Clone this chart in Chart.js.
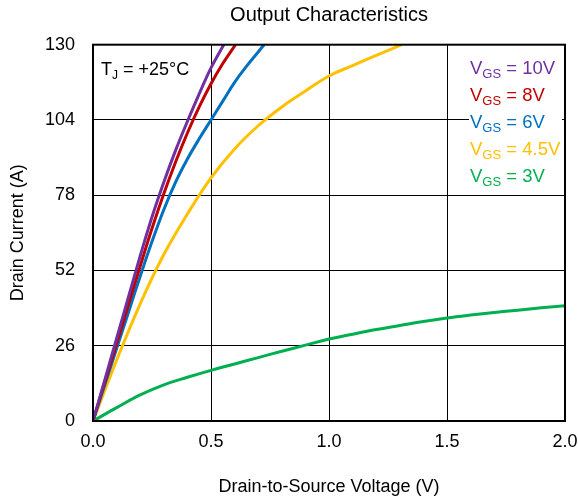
<!DOCTYPE html>
<html>
<head>
<meta charset="utf-8">
<script src="https://cdn.jsdelivr.net/npm/chart.js@4.4.0/dist/chart.umd.min.js"></script>
<style>
  html, body { margin: 0; padding: 0; background: #fff; }
</style>
</head>
<body>
<canvas id="chart" width="578" height="500"></canvas>
<script>
// Drain-to-source voltage (V) and drain current (A) for each gate drive
const vds10 = [0, 0.05, 0.1, 0.15, 0.2, 0.25, 0.3, 0.35, 0.4, 0.45, 0.5, 0.554];
const id10  = [0, 14.2, 28.5, 42.8, 57, 70.5, 82.5, 93.5, 103.5, 113, 122, 130];

const vds8 = [0, 0.05, 0.1, 0.15, 0.2, 0.25, 0.3, 0.35, 0.4, 0.45, 0.5, 0.55, 0.604];
const id8  = [0, 13.4, 26.7, 40.1, 53.5, 66.5, 78.5, 89.5, 99.5, 108.5, 116.5, 123.5, 130];

const vds6 = [0, 0.05, 0.1, 0.15, 0.2, 0.25, 0.3, 0.35, 0.4, 0.45, 0.5, 0.55, 0.6, 0.65, 0.7, 0.725];
const id6  = [0, 12.5, 25, 37.5, 50, 62, 73, 82.5, 90.5, 97.5, 104, 110.5, 117, 122.5, 127.5, 130];

const vds45 = [0, 0.1, 0.2, 0.3, 0.4, 0.5, 0.6, 0.7, 0.8, 0.9, 1.0, 1.1, 1.2, 1.308];
const id45  = [0, 21, 40.5, 57.5, 71.5, 84, 94, 102, 108.5, 114, 119.2, 122.8, 126.3, 130];

const vds3 = [0, 0.1, 0.2, 0.3, 0.4, 0.5, 0.6, 0.7, 0.8, 0.9, 1.0, 1.1, 1.2, 1.3, 1.4, 1.5, 1.6, 1.7, 1.8, 1.9, 2.0];
const id3  = [0, 4.6, 9, 12.5, 15.1, 17.5, 19.7, 21.9, 24.1, 26.2, 28.3, 30.0, 31.6, 33.0, 34.4, 35.6, 36.6, 37.5, 38.3, 39.1, 39.8];

const gateLabels = ['10V', '8V', '6V', '4.5V', '3V'];
const gateColors = ['#7030A0', '#C00000', '#0070C0', '#FFC000', '#00B050'];
const curves = [[vds10, id10], [vds8, id8], [vds6, id6], [vds45, id45], [vds3, id3]];

const yTicks = [0, 26, 52, 78, 104, 130];
const xTicks = [0, 0.5, 1.0, 1.5, 2.0];

const FONT = '"Liberation Sans", Arial, sans-serif';

const datasets = curves.map(([xs, ys], i) => ({
  label: 'VGS = ' + gateLabels[i],
  data: xs.map((x, k) => ({ x: x, y: ys[k] })),
  borderColor: gateColors[i],
  borderWidth: 3,
  pointRadius: 0,
  fill: false,
  tension: 0.4
}));

// text with a subscript part, e.g. V + GS + " = 10V"
function subText(ctx, x, y, main, sub, rest, size) {
  ctx.font = size + 'px ' + FONT;
  ctx.fillText(main, x, y);
  x += ctx.measureText(main).width;
  ctx.font = Math.round(size * 0.68) + 'px ' + FONT;
  ctx.fillText(sub, x, y + 4);
  x += ctx.measureText(sub).width;
  ctx.font = size + 'px ' + FONT;
  ctx.fillText(rest, x, y);
}

const annotations = {
  id: 'annotations',
  afterDatasetsDraw(chart) {
    const { ctx, chartArea: a } = chart;
    ctx.save();
    ctx.textAlign = 'left';
    ctx.textBaseline = 'alphabetic';
    ctx.fillStyle = '#000';
    subText(ctx, a.left + 8, a.top + 30, 'T', 'J', ' = +25°C', 18);
    // legend block sits on a white box that hides the grid behind it
    const lx = a.right - 95;
    ctx.fillStyle = '#fff';
    ctx.fillRect(lx - 1, a.top + 10, 93, 27 * gateLabels.length);
    gateLabels.forEach((lbl, i) => {
      ctx.fillStyle = gateColors[i];
      subText(ctx, lx, a.top + 29 + 27 * i, 'V', 'GS', ' = ' + lbl, 18.5);
    });
    ctx.restore();
  },
  afterDraw(chart) {
    const { ctx, chartArea: a } = chart;
    ctx.save();
    ctx.strokeStyle = '#000';
    ctx.lineWidth = 2;
    ctx.strokeRect(a.left, a.top, a.right - a.left, a.bottom - a.top);
    ctx.restore();
  }
};

new Chart(document.getElementById('chart').getContext('2d'), {
  type: 'line',
  data: { datasets },
  plugins: [annotations],
  options: {
    responsive: false,
    devicePixelRatio: 1,
    animation: false,
    layout: { padding: { top: 0, right: 13, bottom: 0, left: 0 } },
    plugins: {
      legend: { display: false },
      tooltip: { enabled: false },
      title: {
        display: true,
        text: 'Output Characteristics',
        fullSize: false,
        color: '#000',
        font: { family: FONT, size: 20, weight: 'normal' },
        padding: { top: 3, bottom: 17.7 }
      }
    },
    scales: {
      x: {
        type: 'linear',
        min: 0,
        max: 2,
        afterBuildTicks: s => { s.ticks = xTicks.map(v => ({ value: v })); },
        afterFit: s => { s.height = 79; s.paddingLeft = 0; s.paddingRight = 0; },
        grid: { color: '#000', lineWidth: 1, drawTicks: false },
        border: { color: '#000', width: 2 },
        ticks: {
          color: '#000',
          padding: 10,
          maxRotation: 0,
          font: { family: FONT, size: 18 },
          callback: v => v.toFixed(1)
        },
        title: {
          display: true,
          text: 'Drain-to-Source Voltage (V)',
          color: '#000',
          font: { family: FONT, size: 18 },
          padding: { top: 0, bottom: 2 }
        }
      },
      y: {
        min: 0,
        max: 130,
        afterBuildTicks: s => { s.ticks = yTicks.map(v => ({ value: v })); },
        afterFit: s => { s.width = 93; s.paddingTop = 0; s.paddingBottom = 0; },
        grid: { color: '#000', lineWidth: 1, drawTicks: false },
        border: { color: '#000', width: 2 },
        ticks: {
          color: '#000',
          padding: 18,
          font: { family: FONT, size: 18 }
        },
        title: {
          display: true,
          text: 'Drain Current (A)',
          color: '#000',
          font: { family: FONT, size: 18 },
          padding: { top: 7, bottom: 0 }
        }
      }
    }
  }
});
</script>
</body>
</html>
